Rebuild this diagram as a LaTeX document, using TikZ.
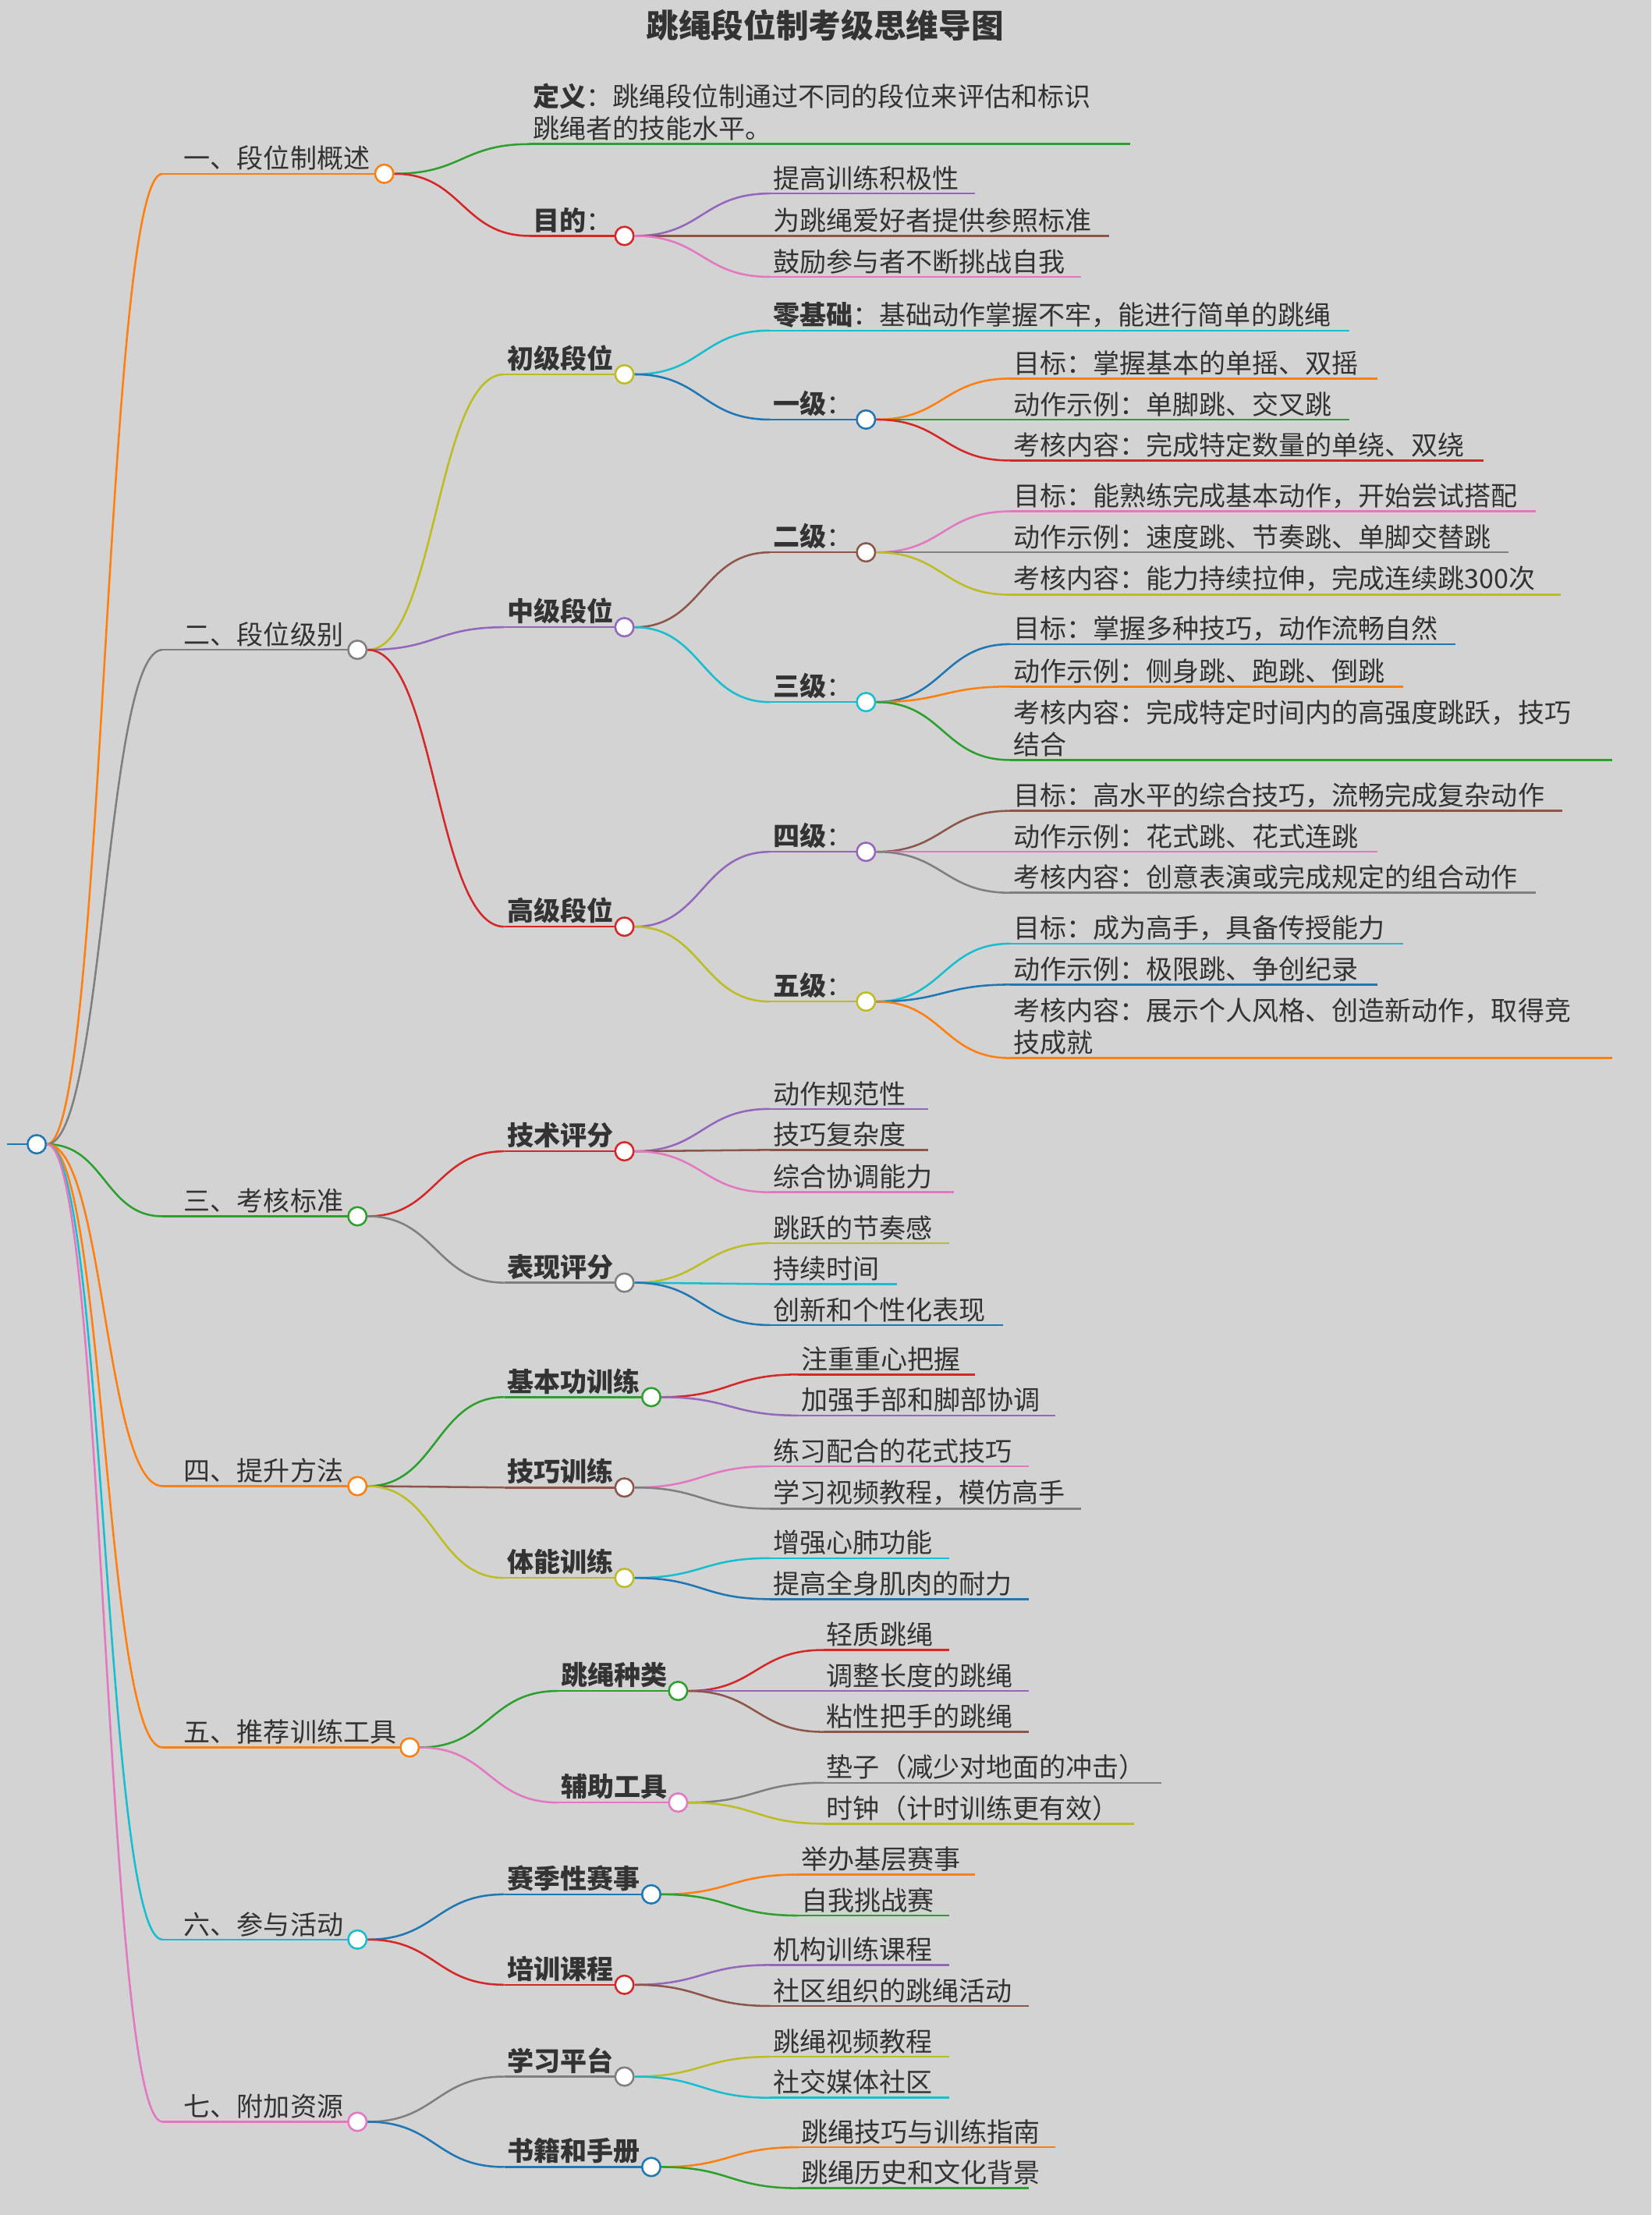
\documentclass[tikz,border=0pt]{standalone}
\usepackage{fontspec}
\usetikzlibrary{calc}
\setmainfont{Noto Sans CJK SC}
\definecolor{cO}{HTML}{FF7F0E}\definecolor{cG}{HTML}{7F7F7F}\definecolor{cN}{HTML}{2CA02C}
\definecolor{cC}{HTML}{17BECF}\definecolor{cP}{HTML}{E377C2}\definecolor{cR}{HTML}{D62728}
\definecolor{cU}{HTML}{9467BD}\definecolor{cB}{HTML}{8C564B}\definecolor{cY}{HTML}{BCBD22}
\definecolor{cL}{HTML}{1F77B4}\definecolor{bg}{HTML}{D3D3D3}\definecolor{tx}{HTML}{333333}
\tikzset{x=1pt,y=-1pt,
 br/.style={draw=#1,line width=1.4pt},
 dot/.style={circle,draw=#1,fill=white,line width=1.4pt,minimum size=13pt,inner sep=0pt},
 lab/.style={anchor=south west,inner sep=2pt,text=tx,font=\fontsize{18.8}{23}\selectfont,align=left}}
% name, parent, sx, y, ex, color, text
\newcommand\mmlink[5]{%
 \coordinate (#1s) at (#3,#4);
 \coordinate (#1m) at ($(#2.east)!0.5!(#1s)$);
 \draw[br=#5] (#2.east) .. controls (#1m |- #2.east) and (#1m |- #1s) .. (#1s);}
\newcommand\mmnode[7]{%
 \mmlink{#1}{#2}{#3}{#4}{#6}
 \draw[br=#6] (#1s) -- (#5,#4);
 \node[lab] (#1t) at (#3,#4) {#7};
 \node[dot=#6] (#1) at (#5,#4) {};}
\newcommand\mmleaf[7]{%
 \mmlink{#1}{#2}{#3}{#4}{#6}
 \draw[br=#6] (#1s) -- (#5,#4);
 \node[lab] (#1t) at (#3,#4) {#7};
 \coordinate (#1) at (#5,#4);}
\begin{document}
\begin{tikzpicture}
\fill[bg] (0,0) rectangle (1169,1568);
\useasboundingbox (0,0) rectangle (1169,1568);
\node[text=tx,font=\fontsize{23}{26}\selectfont\bfseries] (title) at (584,18) {跳绳段位制考级思维导图};
\coordinate (r0) at (5,810);
\draw[br=cL] (r0) -- (26,810);
\node[dot=cL] (root) at (26,810) {};
% level 1
\mmnode{a}{root}{115}{123}{272}{cO}{\hspace{13pt}一、段位制概述}
\mmnode{b}{root}{115}{460}{253}{cG}{\hspace{13pt}二、段位级别}
\mmnode{c}{root}{115}{861}{253}{cN}{\hspace{13pt}三、考核标准}
\mmnode{d}{root}{115}{1052}{253}{cO}{\hspace{13pt}四、提升方法}
\mmnode{e}{root}{115}{1237}{290}{cO}{\hspace{13pt}五、推荐训练工具}
\mmnode{f}{root}{115}{1373}{253}{cC}{\hspace{13pt}六、参与活动}
\mmnode{g}{root}{115}{1502}{253}{cP}{\hspace{13pt}七、附加资源}
% a
\mmleaf{a1}{a}{375}{102}{800}{cN}{\textbf{定义}：跳绳段位制通过不同的段位来评估和标识\\跳绳者的技能水平。}
\mmnode{a2}{a}{375}{167}{442}{cR}{\textbf{目的}：}
\mmleaf{a21}{a2}{545}{137}{690}{cU}{提高训练积极性}
\mmleaf{a22}{a2}{545}{167}{785}{cB}{为跳绳爱好者提供参照标准}
\mmleaf{a23}{a2}{545}{196}{765}{cP}{鼓励参与者不断挑战自我}
% b
\mmnode{b1}{b}{357}{265}{442}{cY}{\textbf{初级段位}}
\mmleaf{b11}{b1}{545}{234}{955}{cC}{\textbf{零基础}：基础动作掌握不牢，能进行简单的跳绳}
\mmnode{b12}{b1}{545}{297}{613}{cL}{\textbf{一级}：}
\mmleaf{b121}{b12}{715}{268}{975}{cO}{目标：掌握基本的单摇、双摇}
\mmleaf{b122}{b12}{715}{297}{955}{cN}{动作示例：单脚跳、交叉跳}
\mmleaf{b123}{b12}{715}{326}{1050}{cR}{考核内容：完成特定数量的单绕、双绕}
\mmnode{b2}{b}{357}{444}{442}{cU}{\textbf{中级段位}}
\mmnode{b21}{b2}{545}{391}{613}{cB}{\textbf{二级}：}
\mmleaf{b211}{b21}{715}{362}{1087}{cP}{目标：能熟练完成基本动作，开始尝试搭配}
\mmleaf{b212}{b21}{715}{391}{1068}{cG}{动作示例：速度跳、节奏跳、单脚交替跳}
\mmleaf{b213}{b21}{715}{421}{1105}{cY}{考核内容：能力持续拉伸，完成连续跳300次}
\mmnode{b22}{b2}{545}{497}{613}{cC}{\textbf{三级}：}
\mmleaf{b221}{b22}{715}{456}{1030}{cL}{目标：掌握多种技巧，动作流畅自然}
\mmleaf{b222}{b22}{715}{486}{993}{cO}{动作示例：侧身跳、跑跳、倒跳}
\mmleaf{b223}{b22}{715}{538}{1141}{cN}{考核内容：完成特定时间内的高强度跳跃，技巧\\结合}
\mmnode{b3}{b}{357}{656}{442}{cR}{\textbf{高级段位}}
\mmnode{b31}{b3}{545}{603}{613}{cU}{\textbf{四级}：}
\mmleaf{b311}{b31}{715}{574}{1106}{cB}{目标：高水平的综合技巧，流畅完成复杂动作}
\mmleaf{b312}{b31}{715}{603}{975}{cP}{动作示例：花式跳、花式连跳}
\mmleaf{b313}{b31}{715}{632}{1087}{cG}{考核内容：创意表演或完成规定的组合动作}
\mmnode{b32}{b3}{545}{709}{613}{cY}{\textbf{五级}：}
\mmleaf{b321}{b32}{715}{668}{993}{cC}{目标：成为高手，具备传授能力}
\mmleaf{b322}{b32}{715}{697}{975}{cL}{动作示例：极限跳、争创纪录}
\mmleaf{b323}{b32}{715}{749}{1141}{cO}{考核内容：展示个人风格、创造新动作，取得竞\\技成就}
% c
\mmnode{c1}{c}{357}{815}{442}{cR}{\textbf{技术评分}}
\mmleaf{c11}{c1}{545}{785}{657}{cU}{动作规范性}
\mmleaf{c12}{c1}{545}{814}{657}{cB}{技巧复杂度}
\mmleaf{c13}{c1}{545}{844}{675}{cP}{综合协调能力}
\mmnode{c2}{c}{357}{908}{442}{cG}{\textbf{表现评分}}
\mmleaf{c21}{c2}{545}{880}{672}{cY}{跳跃的节奏感}
\mmleaf{c22}{c2}{545}{909}{635}{cC}{持续时间}
\mmleaf{c23}{c2}{545}{938}{710}{cL}{创新和个性化表现}
% d
\mmnode{d1}{d}{357}{989}{461}{cN}{\textbf{基本功训练}}
\mmleaf{d11}{d1}{565}{973}{690}{cR}{注重重心把握}
\mmleaf{d12}{d1}{565}{1002}{747}{cU}{加强手部和脚部协调}
\mmnode{d2}{d}{357}{1053}{442}{cB}{\textbf{技巧训练}}
\mmleaf{d21}{d2}{545}{1038}{728}{cP}{练习配合的花式技巧}
\mmleaf{d22}{d2}{545}{1068}{765}{cG}{学习视频教程，模仿高手}
\mmnode{d3}{d}{357}{1117}{442}{cY}{\textbf{体能训练}}
\mmleaf{d31}{d3}{545}{1103}{672}{cC}{增强心肺功能}
\mmleaf{d32}{d3}{545}{1132}{728}{cL}{提高全身肌肉的耐力}
% e
\mmnode{e1}{e}{395}{1197}{480}{cN}{\textbf{跳绳种类}}
\mmleaf{e11}{e1}{583}{1168}{672}{cR}{轻质跳绳}
\mmleaf{e12}{e1}{583}{1197}{728}{cU}{调整长度的跳绳}
\mmleaf{e13}{e1}{583}{1226}{728}{cB}{粘性把手的跳绳}
\mmnode{e2}{e}{395}{1276}{480}{cP}{\textbf{辅助工具}}
\mmleaf{e21}{e2}{583}{1262}{822}{cG}{垫子（减少对地面的冲击）}
\mmleaf{e22}{e2}{583}{1291}{803}{cY}{时钟（计时训练更有效）}
% f
\mmnode{f1}{f}{357}{1341}{461}{cL}{\textbf{赛季性赛事}}
\mmleaf{f11}{f1}{565}{1327}{690}{cO}{举办基层赛事}
\mmleaf{f12}{f1}{565}{1356}{672}{cN}{自我挑战赛}
\mmnode{f2}{f}{357}{1405}{442}{cR}{\textbf{培训课程}}
\mmleaf{f21}{f2}{545}{1391}{672}{cU}{机构训练课程}
\mmleaf{f22}{f2}{545}{1420}{728}{cB}{社区组织的跳绳活动}
% g
\mmnode{g1}{g}{357}{1470}{442}{cG}{\textbf{学习平台}}
\mmleaf{g11}{g1}{545}{1456}{672}{cY}{跳绳视频教程}
\mmleaf{g12}{g1}{545}{1485}{672}{cC}{社交媒体社区}
\mmnode{g2}{g}{357}{1534}{461}{cL}{\textbf{书籍和手册}}
\mmleaf{g21}{g2}{565}{1520}{747}{cO}{跳绳技巧与训练指南}
\mmleaf{g22}{g2}{565}{1549}{728}{cN}{跳绳历史和文化背景}
\end{tikzpicture}
\end{document}
